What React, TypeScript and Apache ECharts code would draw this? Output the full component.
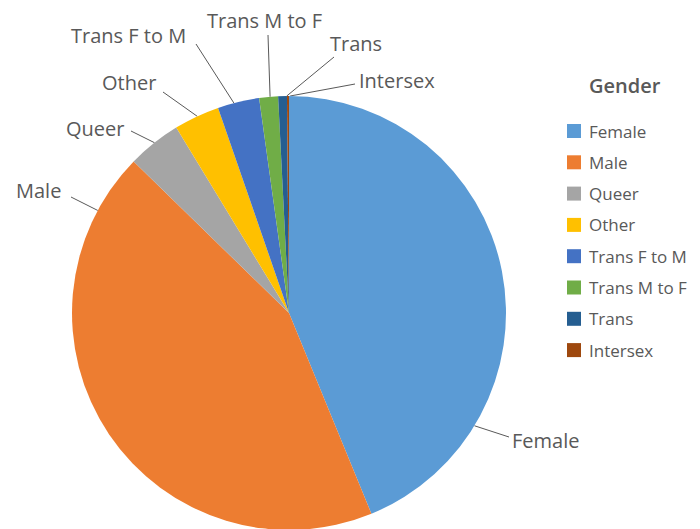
import React, { useEffect, useRef } from "react";
import * as echarts from "echarts";

const categories = ["Female", "Male", "Queer", "Other", "Trans F to M", "Trans M to F", "Trans", "Intersex"];
const values = [43.8, 43.5, 4.0, 3.4, 3.1, 1.4, 0.65, 0.15];
const colors = ["#5B9BD5", "#ED7D31", "#A5A5A5", "#FFC000", "#4472C4", "#70AD47", "#255E91", "#9E480E"];
const legendTitle = "Gender";

// label placement (layout only): left x, middle y of text, leader start angle (deg clockwise from top), leader end
const CX = 289;
const CY = 313;
const R = 217;
const labelPos = [
  { x: 512, y: 440, ang: 121.3, ex: 509, ey: 437 },
  { x: 16, y: 190, ang: 298.2, ex: 71, ey: 197 },
  { x: 66, y: 128, ang: 321.7, ex: 131, ey: 131 },
  { x: 102, y: 82, ang: 335.0, ex: 163, ey: 92 },
  { x: 71, y: 35, ang: 345.3, ex: 196, ey: 44 },
  { x: 207, y: 20, ang: 355.0, ex: 268, ey: 35 },
  { x: 330, y: 43, ang: 359.4, ex: 334, ey: 57 },
  { x: 359, y: 80, ang: 0.3, ex: 355, ey: 84 },
];

export default function App() {
  const ref = useRef<HTMLDivElement>(null);
  useEffect(() => {
    if (!ref.current) return;
    const chart = echarts.init(ref.current, undefined, { renderer: "svg" });
    const font = "'Open Sans', 'Noto Sans', sans-serif";
    chart.setOption({
      animation: false,
      backgroundColor: "#ffffff",
      color: colors,
      title: {
        text: legendTitle,
        left: 584,
        top: 70,
        textStyle: { fontFamily: font, fontSize: 20, fontWeight: 600, color: "#595959" },
      },
      legend: {
        orient: "vertical",
        left: 562,
        top: 117,
        itemWidth: 14,
        itemHeight: 14,
        itemGap: 13.3,
        icon: "rect",
        data: categories,
        textStyle: { fontFamily: font, fontSize: 17, color: "#595959", padding: [0, 0, 0, 3], lineHeight: 18 },
      },
      series: [
        {
          type: "pie",
          center: [CX, CY],
          radius: R,
          startAngle: 90,
          clockwise: true,
          avoidLabelOverlap: false,
          itemStyle: { borderWidth: 0 },
          label: {
            show: true,
            position: "outside",
            formatter: "{b}",
            fontFamily: font,
            fontSize: 20,
            color: "#595959",
          },
          labelLine: { show: true, length: 10, length2: 10, lineStyle: { color: "#595959", width: 1 } },
          labelLayout: (params: any) => {
            const p = labelPos[params.dataIndex];
            const a = (p.ang * Math.PI) / 180;
            const sx = CX + R * Math.sin(a);
            const sy = CY - R * Math.cos(a);
            return {
              x: p.x,
              y: p.y,
              align: "left",
              verticalAlign: "middle",
              labelLinePoints: [
                [sx, sy],
                [p.ex, p.ey],
              ],
            };
          },
          data: categories.map((c, i) => ({ name: c, value: values[i] })),
        },
      ],
    });
    return () => chart.dispose();
  }, []);
  return <div ref={ref} style={{ position: "fixed", left: 0, top: 0, width: 700, height: 529 }} />;
}
